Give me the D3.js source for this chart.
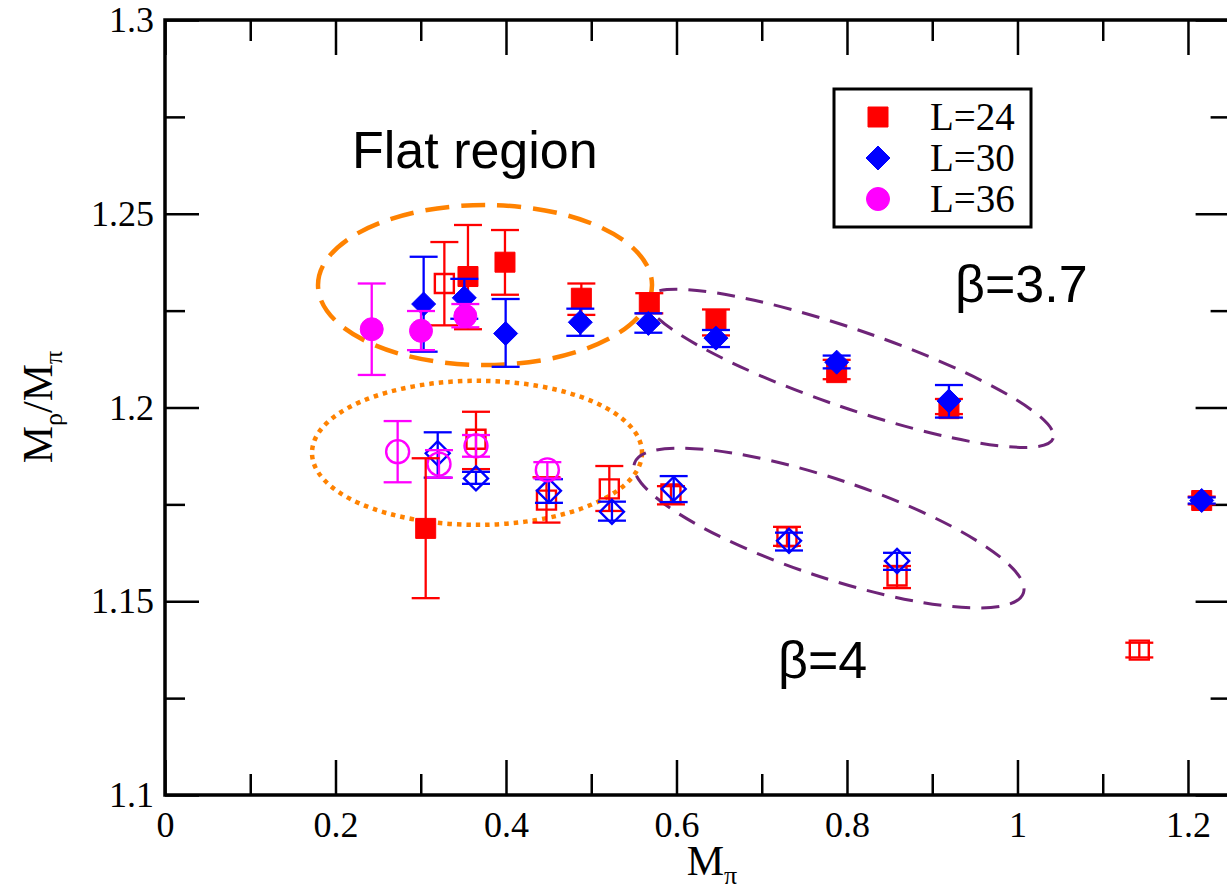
<!DOCTYPE html>
<html>
<head>
<meta charset="utf-8">
<script src="https://cdn.jsdelivr.net/npm/d3@7"></script>
<style>
body { margin: 0; background: #fff; }
</style>
</head>
<body>
<div id="chart"></div>
<script>
// tick values
const xTicks = [0, 0.2, 0.4, 0.6, 0.8, 1, 1.2];
const xMinorTicks = [0.1, 0.3, 0.5, 0.7, 0.9, 1.1];
const yTicks = [1.1, 1.15, 1.2, 1.25, 1.3];
const yMinorTicks = [1.125, 1.175, 1.225, 1.275];

// [M_pi, M_rho/M_pi, lower, upper]
// beta = 3.7 (filled symbols)
const b37L24 = [
  [0.3058, 1.1688, 1.1508, 1.1869],
  [0.3554, 1.2338, 1.2202, 1.2471],
  [0.3988, 1.2375, 1.2291, 1.2458],
  [0.4884, 1.2282, 1.2239, 1.2320],
  [0.5681, 1.2270, 1.2243, 1.2295],
  [0.6463, 1.2226, 1.2186, 1.2253],
  [0.7879, 1.2090, 1.2073, 1.2123],
  [0.9196, 1.1997, 1.1983, 1.2022],
  [1.2161, 1.1760, 1.1750, 1.1770]
];
const b37L30 = [
  [0.3034, 1.2267, 1.2144, 1.2389],
  [0.3511, 1.2283, 1.2229, 1.2332],
  [0.3996, 1.2191, 1.2105, 1.2280],
  [0.4872, 1.2220, 1.2185, 1.2255],
  [0.5670, 1.2217, 1.2193, 1.2243],
  [0.6463, 1.2179, 1.2156, 1.2200],
  [0.7879, 1.2117, 1.2101, 1.2134],
  [0.9196, 1.2017, 1.1974, 1.2058],
  [1.2161, 1.1760, 1.1752, 1.1768]
];
const b37L36 = [
  [0.2425, 1.2202, 1.2084, 1.2320],
  [0.3003, 1.2198, 1.2148, 1.2249],
  [0.3523, 1.2236, 1.2207, 1.2267]
];
// beta = 4 (open symbols)
const b4L24 = [
  [0.3277, 1.2320, 1.2212, 1.2427],
  [0.3648, 1.1918, 1.1841, 1.1989],
  [0.4475, 1.1761, 1.1703, 1.1820],
  [0.5212, 1.1790, 1.1733, 1.1849],
  [0.5935, 1.1777, 1.1750, 1.1797],
  [0.7296, 1.1666, 1.1643, 1.1692],
  [0.8587, 1.1565, 1.1534, 1.1591],
  [1.1429, 1.1374, 1.1355, 1.1393]
];
const b4L30 = [
  [0.3199, 1.1882, 1.1819, 1.1936],
  [0.3648, 1.1817, 1.1803, 1.1834],
  [0.4504, 1.1785, 1.1754, 1.1815],
  [0.5243, 1.1731, 1.1708, 1.1757],
  [0.5967, 1.1790, 1.1756, 1.1823],
  [0.7320, 1.1656, 1.1631, 1.1677],
  [0.8587, 1.1604, 1.1581, 1.1625]
];
const b4L36 = [
  [0.2729, 1.1886, 1.1807, 1.1965],
  [0.3214, 1.1854, 1.1819, 1.1890],
  [0.3648, 1.1901, 1.1873, 1.1929],
  [0.4485, 1.1839, 1.1817, 1.1859]
];
const legendLabels = ["L=24", "L=30", "L=36"];

const W = 1227, H = 893;
const serif = "'Liberation Serif', 'Times New Roman', serif";
const sans = "'Liberation Sans', Arial, sans-serif";

const svg = d3.select("#chart").append("svg")
  .attr("width", W)
  .attr("height", H);

const x = d3.scaleLinear().domain([0, 1.25]).range([165, 1230.6]);
const y = d3.scaleLinear().domain([1.1, 1.3]).range([795, 20]);

// axes, ticks pointing inside
function styleAxis(g) {
  g.select(".domain").remove();
  g.selectAll(".tick line").attr("stroke", "#000").attr("stroke-width", 2.5);
  g.selectAll(".tick text").attr("font-family", serif).attr("font-size", 36).attr("fill", "#000");
}
const fmt = d => d3.format("")(d);

svg.append("g").attr("transform", `translate(0,${y(1.1)})`)
  .call(d3.axisBottom(x).tickValues(xTicks).tickSize(-35).tickPadding(16).tickFormat(fmt))
  .call(styleAxis);
svg.append("g").attr("transform", `translate(0,${y(1.1)})`)
  .call(d3.axisBottom(x).tickValues(xMinorTicks).tickSize(-21).tickFormat(""))
  .call(styleAxis);
svg.append("g").attr("transform", `translate(0,${y(1.3)})`)
  .call(d3.axisTop(x).tickValues(xTicks).tickSize(-35).tickFormat(""))
  .call(styleAxis);
svg.append("g").attr("transform", `translate(0,${y(1.3)})`)
  .call(d3.axisTop(x).tickValues(xMinorTicks).tickSize(-21).tickFormat(""))
  .call(styleAxis);
svg.append("g").attr("transform", `translate(${x(0)},0)`)
  .call(d3.axisLeft(y).tickValues(yTicks).tickSize(-34).tickPadding(11).tickFormat(fmt))
  .call(styleAxis);
svg.append("g").attr("transform", `translate(${x(0)},0)`)
  .call(d3.axisLeft(y).tickValues(yMinorTicks).tickSize(-20).tickFormat(""))
  .call(styleAxis);
svg.append("g").attr("transform", `translate(${x(1.25)},0)`)
  .call(d3.axisRight(y).tickValues(yTicks).tickSize(-35).tickFormat(""))
  .call(styleAxis);
svg.append("g").attr("transform", `translate(${x(1.25)},0)`)
  .call(d3.axisRight(y).tickValues(yMinorTicks).tickSize(-20).tickFormat(""))
  .call(styleAxis);

// frame
svg.append("rect")
  .attr("x", x(0)).attr("y", y(1.3))
  .attr("width", x(1.25) - x(0)).attr("height", y(1.1) - y(1.3))
  .attr("fill", "none").attr("stroke", "#000").attr("stroke-width", 3.5);

// axis titles
const yt = svg.append("text")
  .attr("transform", `translate(52,${407}) rotate(-90)`)
  .attr("text-anchor", "middle")
  .attr("font-family", serif).attr("font-size", 42);
yt.append("tspan").text("M");
yt.append("tspan").attr("font-size", 26).attr("dy", 10).text("ρ");
yt.append("tspan").attr("dy", -10).text("/M");
yt.append("tspan").attr("font-size", 26).attr("dy", 10).text("π");

const xt = svg.append("text")
  .attr("x", 712).attr("y", 875)
  .attr("text-anchor", "middle")
  .attr("font-family", serif).attr("font-size", 42);
xt.append("tspan").text("M");
xt.append("tspan").attr("font-size", 26).attr("dy", 9).text("π");

// region outlines
const regions = [
  { cx: 0.3754, cy: 1.2316, rx: 167, ry: 80, rot: 0, color: "#ff8200", width: 4.5, dash: "24,12" },
  { cx: 0.3660, cy: 1.1883, rx: 165, ry: 72, rot: 0, color: "#ff8200", width: 4.5, dash: "4.5,5" },
  { cx: 0.8035, cy: 1.2101, rx: 215, ry: 39, rot: 19, color: "#6e2478", width: 3, dash: "18,11" },
  { cx: 0.7789, cy: 1.1689, rx: 205, ry: 49, rot: 18.5, color: "#6e2478", width: 3, dash: "18,11" }
];
svg.selectAll(".region")
  .data(regions)
  .enter()
  .append("ellipse")
  .attr("class", "region")
  .attr("transform", d => `translate(${x(d.cx)},${y(d.cy)}) rotate(${d.rot})`)
  .attr("rx", d => d.rx)
  .attr("ry", d => d.ry)
  .attr("fill", "none")
  .attr("stroke", d => d.color)
  .attr("stroke-width", d => d.width)
  .attr("stroke-dasharray", d => d.dash);

// symbol shapes
function shapePath(kind) {
  if (kind === "square") return "M-10,-10h20v20h-20Z";
  if (kind === "osquare") return "M-9.5,-9.5h19v19h-19Z";
  if (kind === "diamond") return "M0,-12L12,0L0,12L-12,0Z";
  return d3.arc()({ innerRadius: 0, outerRadius: 11.5, startAngle: 0, endAngle: 2 * Math.PI });
}

function drawSeries(data, color, kind, filled) {
  const g = svg.append("g");
  const eb = g.selectAll(".eb").data(data).enter().append("g")
    .attr("stroke", color).attr("stroke-width", 2.3).attr("fill", "none");
  eb.append("line")
    .attr("x1", d => x(d[0])).attr("x2", d => x(d[0]))
    .attr("y1", d => y(d[2])).attr("y2", d => y(d[3]));
  eb.append("line")
    .attr("x1", d => x(d[0]) - 14).attr("x2", d => x(d[0]) + 14)
    .attr("y1", d => y(d[2])).attr("y2", d => y(d[2]));
  eb.append("line")
    .attr("x1", d => x(d[0]) - 14).attr("x2", d => x(d[0]) + 14)
    .attr("y1", d => y(d[3])).attr("y2", d => y(d[3]));
  g.selectAll(".pt").data(data).enter().append("path")
    .attr("d", shapePath(kind))
    .attr("transform", d => `translate(${x(d[0])},${y(d[1])})`)
    .attr("fill", filled ? color : "none")
    .attr("stroke", color)
    .attr("stroke-width", filled ? 1 : 2.4);
}

drawSeries(b4L24, "#ff0000", "osquare", false);
drawSeries(b4L30, "#0000ff", "diamond", false);
drawSeries(b4L36, "#ff00ff", "circle", false);
drawSeries(b37L24, "#ff0000", "square", true);
drawSeries(b37L30, "#0000ff", "diamond", true);
drawSeries(b37L36, "#ff00ff", "circle", true);

// annotations
svg.append("text").attr("x", 352).attr("y", 168)
  .attr("font-family", sans).attr("font-size", 52).text("Flat region");
svg.append("text").attr("x", 955).attr("y", 302)
  .attr("font-family", sans).attr("font-size", 52).text("β=3.7");
svg.append("text").attr("x", 778).attr("y", 678)
  .attr("font-family", sans).attr("font-size", 52).text("β=4");

// legend
svg.append("rect")
  .attr("x", 834).attr("y", 89).attr("width", 197).attr("height", 138)
  .attr("fill", "#fff").attr("stroke", "#000").attr("stroke-width", 3);
const legendKinds = ["square", "diamond", "circle"];
const legendColors = ["#ff0000", "#0000ff", "#ff00ff"];
legendLabels.forEach((lab, i) => {
  const cy = 117 + i * 41;
  svg.append("path")
    .attr("d", shapePath(legendKinds[i]))
    .attr("transform", `translate(878,${cy})`)
    .attr("fill", legendColors[i]).attr("stroke", legendColors[i]).attr("stroke-width", 1);
  svg.append("text")
    .attr("x", 930).attr("y", cy + 13)
    .attr("font-family", serif).attr("font-size", 39)
    .text(lab);
});
</script>
</body>
</html>
